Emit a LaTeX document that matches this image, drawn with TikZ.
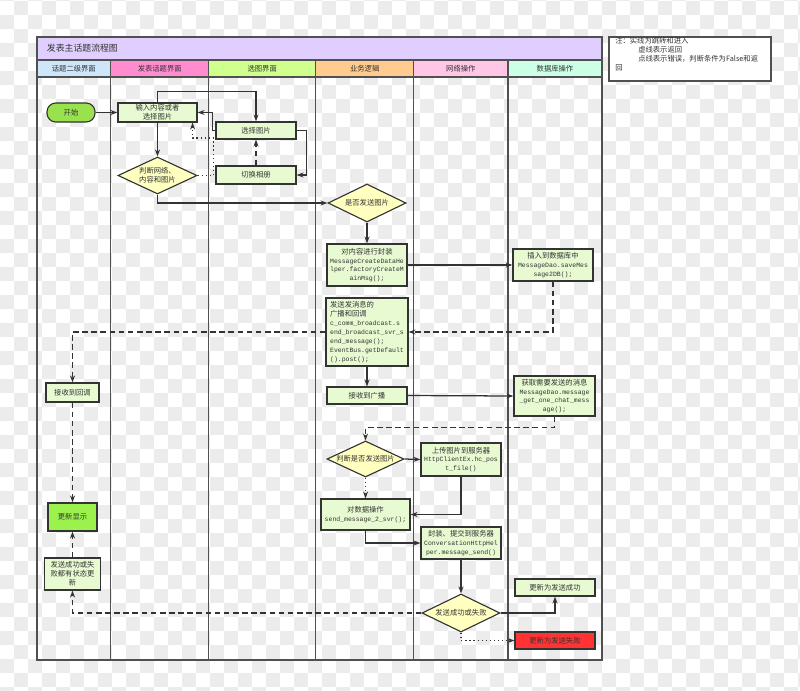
\documentclass[tikz,border=0pt]{standalone}
\usepackage{fontspec}
\newfontfamily\cjk{Noto Sans CJK SC}
\setmonofont{Liberation Mono}
\usetikzlibrary{arrows.meta,shapes.geometric}

\definecolor{linec}{HTML}{333333}
\definecolor{framec}{HTML}{505050}
\definecolor{checkc}{HTML}{ECECEC}
\definecolor{titlec}{HTML}{E0CEFF}
\definecolor{boxc}{HTML}{E8FAD2}
\definecolor{choicec}{HTML}{FFFFC0}
\definecolor{startc}{HTML}{99E24E}
\definecolor{showc}{HTML}{9CF24C}
\definecolor{failc}{HTML}{FF3333}
\definecolor{laneA}{HTML}{CDE6FA}
\definecolor{laneB}{HTML}{FF8CCF}
\definecolor{laneC}{HTML}{CFFF8C}
\definecolor{laneD}{HTML}{FFCB8E}
\definecolor{laneE}{HTML}{FFC6E6}
\definecolor{laneF}{HTML}{CBFFE6}

\newcommand{\chart}{\cjk\fontsize{5.2}{6.3}\selectfont}
\newcommand{\code}[1]{{\ttfamily\fontsize{4.6}{6.3}\selectfont #1}}

\tikzset{
    box/.style={draw=linec, fill=boxc, line width=0.8pt, inner sep=1pt,
                align=center, font=\chart, text=linec},
    choice/.style={diamond, draw=linec, fill=choicec, line width=0.8pt,
                   inner sep=0pt},
    inside/.style={align=center, font=\chart, text=linec},
    flow/.style={-{Stealth[length=5pt,width=3.6pt]}, draw=linec, line width=0.9pt},
    back/.style={flow, dash pattern=on 4pt off 2.5pt},
    error/.style={flow, dotted},
    frame/.style={draw=framec, line width=1.2pt},
    lane/.style={draw=framec, line width=0.9pt},
    lanelabel/.style={font=\chart, text=linec},
}
\newcommand{\swimlane}[5]{
    \filldraw[lane, fill=#4] (#2,60) rectangle (#3,77);
    \node[lanelabel] (#1) at ({(#2+#3)/2},68.5) {#5};
    \draw[lane] (#2,77) -- (#2,660);
}

\begin{document}
\begin{tikzpicture}[x=0.025cm, y=-0.025cm]
    \path[use as bounding box] (0,0) rectangle (800,690);
    % checkerboard backdrop
    \foreach \i in {0,...,28}
        \foreach \j in {-1,...,24} {
            \fill[checkc] (28*\i,28*\j+15) rectangle ++(14,14);
            \fill[checkc] (28*\i+14,28*\j+1) rectangle ++(14,14);
        }

    % pool and lanes
    \filldraw[frame, fill=titlec] (37,37) rectangle (602,60);
    \node[anchor=west, font=\cjk\fontsize{6.3}{7}\selectfont, text=linec] (title) at (42,48.5) {发表主话题流程图};
    \swimlane{laneui}{37}{110.7}{laneA}{话题二级界面}
    \swimlane{lanepost}{110.7}{208.7}{laneB}{发表话题界面}
    \swimlane{lanepick}{208.7}{315.7}{laneC}{选图界面}
    \swimlane{lanelogic}{315.7}{413.7}{laneD}{业务逻辑}
    \swimlane{lanenet}{413.7}{508}{laneE}{网络操作}
    \swimlane{lanedb}{508}{602}{laneF}{数据库操作}
    \draw[frame] (37,37) rectangle (602,660);

    % legend
    \filldraw[frame, fill=white] (609,37) rectangle (771,81);
    \node[anchor=north west, align=left, inner sep=0pt, font=\chart, text=linec] (legend) at (615,37.5)
        {注：实线为跳转和进入\\\hspace*{0.575cm}虚线表示返回\\\hspace*{0.575cm}点线表示错误，判断条件为False和返\\回};

    % first column
    \node[box, fill=startc, rounded corners=0.22cm, minimum width=1.2cm, minimum height=0.475cm] (start) at (71,112.5) {开始};
    \node[box, minimum width=1.975cm, minimum height=0.475cm] (input) at (157.5,112.5) {输入内容或者\\选择图片};
    \node[box, minimum width=2cm, minimum height=0.425cm] (pick) at (256,130.5) {选择图片};
    \node[box, minimum width=2cm, minimum height=0.45cm] (album) at (256,175) {切换相册};
    \node[choice, minimum width=1.975cm, minimum height=0.925cm,
          label={[inside]center:判断网络、\\内容和图片}] (check) at (157.5,175.5) {};

    % logic and storage
    \node[choice, minimum width=1.95cm, minimum height=0.95cm,
          label={[inside]center:是否发送图片}] (sendpic) at (367,203) {};
    \node[box, minimum width=2cm, minimum height=1.05cm] (wrap) at (367,265)
        {对内容进行封装\\\code{MessageCreateDataHe}\\\code{lper.factoryCreateM}\\\code{ainMsg();}};
    \node[box, minimum width=2cm, minimum height=0.8cm] (insert) at (553,265)
        {插入到数据库中\\\code{MessageDao.saveMes}\\\code{sage2DB();}};
    \node[box, align=left, minimum width=2.05cm, minimum height=1.7cm] (bcast) at (367,332)
        {发送发消息的\\广播和回调\\\code{c\_comm\_broadcast.s}\\\code{end\_broadcast\_svr\_s}\\\code{end\_message();}\\\code{EventBus.getDefault}\\\code{().post();}};
    \node[box, minimum width=2cm, minimum height=0.425cm] (recvb) at (367,395.5) {接收到广播};
    \node[box, minimum width=2.025cm, minimum height=1cm] (fetch) at (554.5,396)
        {获取需要发送的消息\\\code{MessageDao.message}\\\code{\_get\_one\_chat\_mess}\\\code{age();}};
    \node[box, minimum width=1.325cm, minimum height=0.475cm] (recvcb) at (72.5,392.5) {接收到回调};

    % sending
    \node[choice, minimum width=1.925cm, minimum height=0.9cm,
          label={[inside]center:判断是否发送图片}] (haspic) at (365.5,459) {};
    \node[box, minimum width=2cm, minimum height=0.825cm] (upload) at (461,459.5)
        {上传图片到服务器\\\code{HttpClientEx.hc\_pos}\\\code{t\_file()}};
    \node[box, minimum width=2.225cm, minimum height=0.775cm] (dataop) at (365.5,514.5)
        {对数据操作\\\code{send\_message\_2\_svr();}};
    \node[box, minimum width=2cm, minimum height=0.8cm] (submit) at (461,543)
        {封装、提交到服务器\\\code{ConversationHttpHel}\\\code{per.message\_send()}};
    \node[choice, minimum width=1.95cm, minimum height=0.95cm,
          label={[inside]center:发送成功或失败}] (result) at (461,613) {};
    \node[box, minimum width=2cm, minimum height=0.425cm] (ok) at (555,587.5) {更新为发送成功};
    \node[box, fill=failc, minimum width=2cm, minimum height=0.425cm] (fail) at (555,640.5) {更新为发送失败};
    \node[box, fill=showc, minimum width=1.225cm, minimum height=0.7cm] (refresh) at (72.5,517) {更新显示};
    \node[box, minimum width=1.4cm, minimum height=0.8cm] (status) at (72.5,574) {发送成功或失\\败都有状态更\\新};

    % connectors
    \draw[flow] (start.east) -- (input.west);
    \draw[flow] (input.south) -- (check.north);
    \draw[flow] (input.north) -- ++(0,-11) -| (pick.north);
    \draw[flow] (pick.west) -- ++(-3,0) |- (input.east);
    \draw[flow] (pick.east) -- ++(10,0) |- (album.east);
    \draw[back] (album.north) -- (pick.south);
    \draw[error] (check.east) -- ++(16,0) -- ++(0,-37.5) -| ([xshift=-0.125cm]input.south east);
    \draw[flow] (check.south) |- (sendpic.west);
    \draw[flow] (sendpic.south) -- (wrap.north);
    \draw[flow] (wrap.east) -- (insert.west);
    \draw[back] (insert.south) |- (bcast.east);
    \draw[back] (bcast.west) -| (recvcb.north);
    \draw[flow] (bcast.south) -- (recvb.north);
    \draw[flow] (recvb.east) -- (fetch.west);
    \draw[back] (fetch.south) -- ++(0,11) -| (haspic.north);
    \draw[flow] (haspic.east) -- (upload.west);
    \draw[error] (haspic.south) -- (dataop.north);
    \draw[flow] (upload.south) |- (dataop.east);
    \draw[flow] (dataop.south) |- (submit.west);
    \draw[flow] (submit.south) -- (result.north);
    \draw[flow] (result.east) -| (ok.south);
    \draw[error] (result.south) |- (fail.west);
    \draw[back] (result.west) -| (status.south);
    \draw[back] (status.north) -- (refresh.south);
    \draw[back] (recvcb.south) -- (refresh.north);

\end{tikzpicture}
\end{document}
